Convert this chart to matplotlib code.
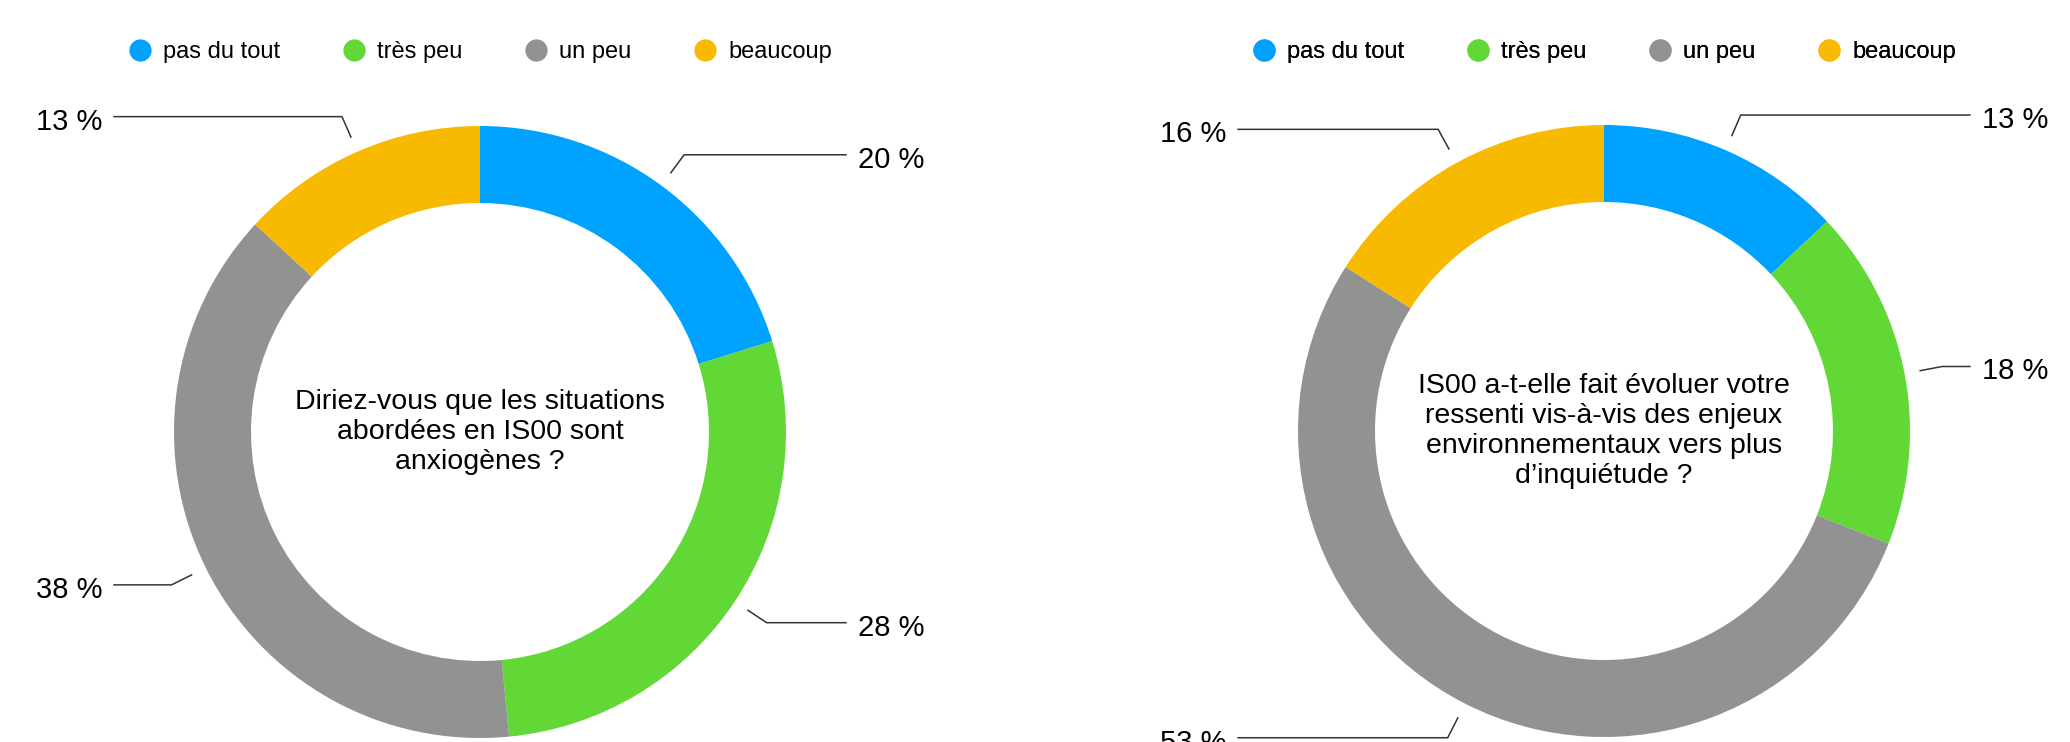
import numpy as np
import matplotlib.pyplot as plt
from matplotlib.lines import Line2D

plt.rcParams['font.family'] = ['Liberation Sans', 'DejaVu Sans']

# data
categories = ['pas du tout', 'très peu', 'un peu', 'beaucoup']
colors = ['#00A2FF', '#61D836', '#929292', '#F8BA00']

q1_values = [20, 28, 38, 13]
q2_values = [13, 18, 53, 16]
q1_text = 'Diriez-vous que les situations\nabordées en IS00 sont\nanxiogènes ?'
q2_text = ('IS00 a-t-elle fait évoluer votre\nressenti vis-à-vis des enjeux\n'
           'environnementaux vers plus\nd’inquiétude ?')

W, H = 2070, 742
fig = plt.figure(figsize=(W / 100, H / 100), dpi=100)
ax = fig.add_axes([0, 0, 1, 1])

R = 306      # outer radius in pixels
RING = 77    # ring thickness


def donut(cx, cy, values, question):
    wedges, _ = ax.pie(values, colors=colors, startangle=90, counterclock=False,
                       center=(cx, cy), radius=R,
                       wedgeprops=dict(width=RING, edgecolor='none'))
    for w, v in zip(wedges, values):
        a = np.deg2rad((w.theta1 + w.theta2) / 2)
        c, s = np.cos(a), np.sin(a)
        x0, y0 = cx + 1.052 * R * c, cy + 1.052 * R * s
        x1, y1 = cx + 1.125 * R * c, cy + 1.125 * R * s
        side = 1 if c >= 0 else -1
        x2 = cx + side * 366
        ax.plot([x0, x1, x2], [y0, y1, y1], color='#333333', lw=1.1,
                solid_joinstyle='miter')
        ax.text(cx + side * 378, y1 - 5, f'{v} %', fontsize=21,
                ha='left' if side > 0 else 'right', va='center')
    ax.text(cx, cy, question, fontsize=20.5, ha='center', va='center',
            multialignment='center', linespacing=1.2)

    handles = [Line2D([], [], marker='o', ls='none', markersize=16,
                      markerfacecolor=col, markeredgecolor='none')
               for col in colors]
    leg = ax.legend(handles, categories, loc='center', ncol=4, frameon=False,
                    bbox_to_anchor=(cx, H - 52), bbox_transform=ax.transData,
                    fontsize=17, handlelength=1.0, handletextpad=0.5,
                    columnspacing=2.6)
    ax.add_artist(leg)


donut(480, H - 432, q1_values, q1_text)
donut(1604, H - 431, q2_values, q2_text)

ax.set_xlim(0, W)
ax.set_ylim(0, H)
ax.set_aspect('equal')
ax.axis('off')

fig.savefig('out.png', dpi=100)
